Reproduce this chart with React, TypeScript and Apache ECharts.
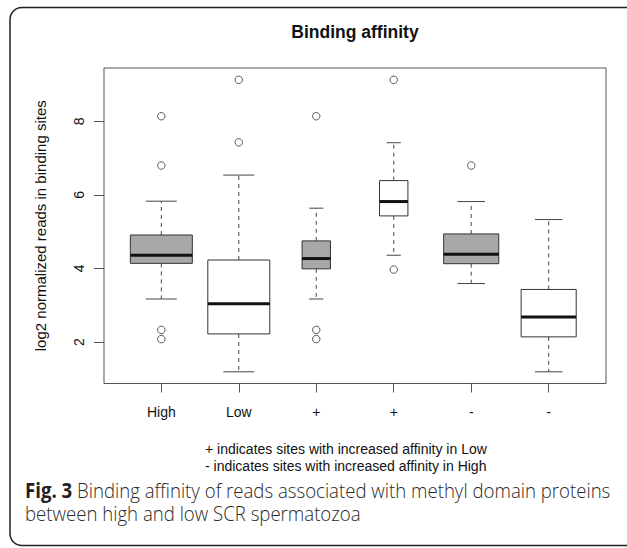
import React, { useEffect, useRef } from "react";
import * as echarts from "echarts";

// ---- data ----
const categories = ["High", "Low", "+", "+", "-", "-"];
const lowerWhisker = [3.17, 1.19, 3.17, 4.36, 3.59, 1.19];
const q1 = [4.14, 2.22, 3.99, 5.43, 4.13, 2.14];
const median = [4.36, 3.04, 4.27, 5.82, 4.39, 2.68];
const q3 = [4.91, 4.23, 4.75, 6.39, 4.94, 3.43];
const upperWhisker = [5.83, 6.54, 5.64, 7.42, 5.82, 5.33];
const outliers: number[][] = [
  [8.14, 6.8, 2.33, 2.08],
  [9.13, 7.43],
  [8.14, 2.33, 2.08],
  [9.13, 3.97],
  [6.8],
  [],
];
// relative group sizes (box width ~ sqrt(n), R varwidth)
const groupSizes = [100, 100, 21, 21, 79, 79];
const yTicks = [2, 4, 6, 8];

const boxFills = ["#a8a8a8", "#ffffff", "#a8a8a8", "#ffffff", "#a8a8a8", "#ffffff"];

const titleText = "Binding affinity";
const yAxisName = "log2 normalized reads in binding sites";
const footnotes = [
  "+ indicates sites with increased affinity in Low",
  "- indicates sites with increased affinity in High",
];
const captionBold = "Fig. 3";
const captionLine1 = " Binding affinity of reads associated with methyl domain proteins";
const captionLine2 = "between high and low SCR spermatozoa";

const FONT = '"Liberation Sans", Arial, sans-serif';
const CAP_FONT = '"Open Sans", "Noto Sans", sans-serif';

function measure(text: string, font: string): number {
  const c = document.createElement("canvas");
  const ctx = c.getContext("2d");
  if (!ctx) return text.length * 9;
  ctx.font = font;
  return ctx.measureText(text).width;
}

export default function App() {
  const ref = useRef<HTMLDivElement>(null);

  useEffect(() => {
    document.body.style.margin = "0";
    if (!ref.current) return;
    const chart = echarts.init(ref.current, undefined, { renderer: "svg" });

    const maxN = Math.max(...groupSizes);
    const boxData = categories.map((_, i) => [
      i + 1,
      lowerWhisker[i],
      q1[i],
      median[i],
      q3[i],
      upperWhisker[i],
      0.8 * Math.sqrt(groupSizes[i] / maxN),
    ]);
    const outlierData: number[][] = [];
    outliers.forEach((arr, i) => arr.forEach((v) => outlierData.push([i + 1, v])));

    // caption sizing (condensed look)
    const capSize = 21;
    const w1 =
      measure(captionBold, `bold ${capSize}px ${CAP_FONT}`) +
      measure(captionLine1, `300 ${capSize}px ${CAP_FONT}`);
    const capScale = 586 / w1;

    const option: any = {
      animation: false,
      backgroundColor: "#ffffff",
      grid: {
        left: 104,
        top: 68,
        width: 502,
        height: 315.5,
        show: true,
        borderColor: "#555",
        borderWidth: 1,
        backgroundColor: "transparent",
        outerBoundsMode: "none",
        containLabel: false,
      },
      xAxis: {
        type: "value",
        min: 0.26,
        max: 6.74,
        splitLine: { show: false },
        axisLine: { show: false },
        axisTick: {
          show: true,
          customValues: [1, 2, 3, 4, 5, 6],
          length: 9,
          inside: false,
          lineStyle: { color: "#555", width: 1 },
        },
        axisLabel: {
          customValues: [1, 2, 3, 4, 5, 6],
          formatter: (v: number) => categories[Math.round(v) - 1] ?? "",
          fontFamily: FONT,
          fontSize: 14,
          color: "#111",
          margin: 21,
        },
      },
      yAxis: {
        type: "value",
        min: 0.872,
        max: 9.452,
        splitLine: { show: false },
        axisLine: { show: false },
        axisTick: {
          show: true,
          customValues: yTicks,
          length: 10,
          inside: false,
          lineStyle: { color: "#555", width: 1 },
        },
        axisLabel: {
          customValues: yTicks,
          rotate: 90,
          fontFamily: FONT,
          fontSize: 14,
          color: "#111",
          margin: 18,
        },
        name: yAxisName,
        nameLocation: "middle",
        nameRotate: 90,
        nameGap: 56,
        nameTextStyle: { fontFamily: FONT, fontSize: 15, color: "#111" },
      },
      series: [
        {
          type: "custom",
          data: boxData,
          encode: { x: 0, y: [1, 2, 3, 4, 5] },
          renderItem: (params: any, api: any) => {
            const x = api.value(0);
            const pLo = api.coord([x, api.value(1)]);
            const pQ1 = api.coord([x, api.value(2)]);
            const pMed = api.coord([x, api.value(3)]);
            const pQ3 = api.coord([x, api.value(4)]);
            const pHi = api.coord([x, api.value(5)]);
            const half = api.size([api.value(6), 0])[0] / 2;
            const cx = pMed[0];
            const dash = { stroke: "#444", lineWidth: 1, lineDash: [4, 4] };
            const solid = { stroke: "#444", lineWidth: 1 };
            return {
              type: "group",
              children: [
                { type: "line", shape: { x1: cx, y1: pQ3[1], x2: cx, y2: pHi[1] }, style: dash },
                { type: "line", shape: { x1: cx, y1: pQ1[1], x2: cx, y2: pLo[1] }, style: dash },
                { type: "line", shape: { x1: cx - half / 2, y1: pHi[1], x2: cx + half / 2, y2: pHi[1] }, style: solid },
                { type: "line", shape: { x1: cx - half / 2, y1: pLo[1], x2: cx + half / 2, y2: pLo[1] }, style: solid },
                {
                  type: "rect",
                  shape: { x: cx - half, y: pQ3[1], width: 2 * half, height: pQ1[1] - pQ3[1] },
                  style: { fill: boxFills[params.dataIndex], stroke: "#333", lineWidth: 1 },
                },
                {
                  type: "line",
                  shape: { x1: cx - half, y1: pMed[1], x2: cx + half, y2: pMed[1] },
                  style: { stroke: "#111", lineWidth: 3 },
                },
              ],
            };
          },
        },
        {
          type: "scatter",
          data: outlierData,
          symbol: "circle",
          symbolSize: 7.5,
          itemStyle: { color: "#ffffff", borderColor: "#333", borderWidth: 1 },
        },
      ],
      graphic: [
        {
          type: "rect",
          shape: { x: 10, y: 7.5, width: 640, height: 538, r: 12 },
          style: { fill: "none", stroke: "#222", lineWidth: 1.5 },
          silent: true,
        },
        {
          type: "text",
          x: 355,
          y: 32,
          style: {
            text: titleText,
            font: `bold 17.5px ${FONT}`,
            fill: "#111",
            textAlign: "center",
            textVerticalAlign: "middle",
          },
        },
        {
          type: "text",
          x: 205,
          y: 449,
          style: {
            text: footnotes[0],
            font: `14px ${FONT}`,
            fill: "#111",
            textAlign: "left",
            textVerticalAlign: "middle",
          },
        },
        {
          type: "text",
          x: 205,
          y: 466,
          style: {
            text: footnotes[1],
            font: `14px ${FONT}`,
            fill: "#111",
            textAlign: "left",
            textVerticalAlign: "middle",
          },
        },
        {
          type: "group",
          x: 25,
          y: 0,
          scaleX: capScale,
          children: [
            {
              type: "text",
              x: 0,
              y: 490,
              style: {
                text: `{b|${captionBold}}{n|${captionLine1}}`,
                textVerticalAlign: "middle",
                rich: {
                  b: { fontFamily: CAP_FONT, fontWeight: "bold", fontSize: capSize, fill: "#222" },
                  n: { fontFamily: CAP_FONT, fontWeight: 300, fontSize: capSize, fill: "#2a2a2a" },
                },
              },
            },
            {
              type: "text",
              x: 0,
              y: 513,
              style: {
                text: captionLine2,
                font: `300 ${capSize}px ${CAP_FONT}`,
                fill: "#2a2a2a",
                textVerticalAlign: "middle",
              },
            },
          ],
        },
      ],
    };

    chart.setOption(option);
    return () => chart.dispose();
  }, []);

  return (
    <div
      ref={ref}
      style={{ position: "fixed", left: 0, top: 0, width: 627, height: 548 }}
    />
  );
}
